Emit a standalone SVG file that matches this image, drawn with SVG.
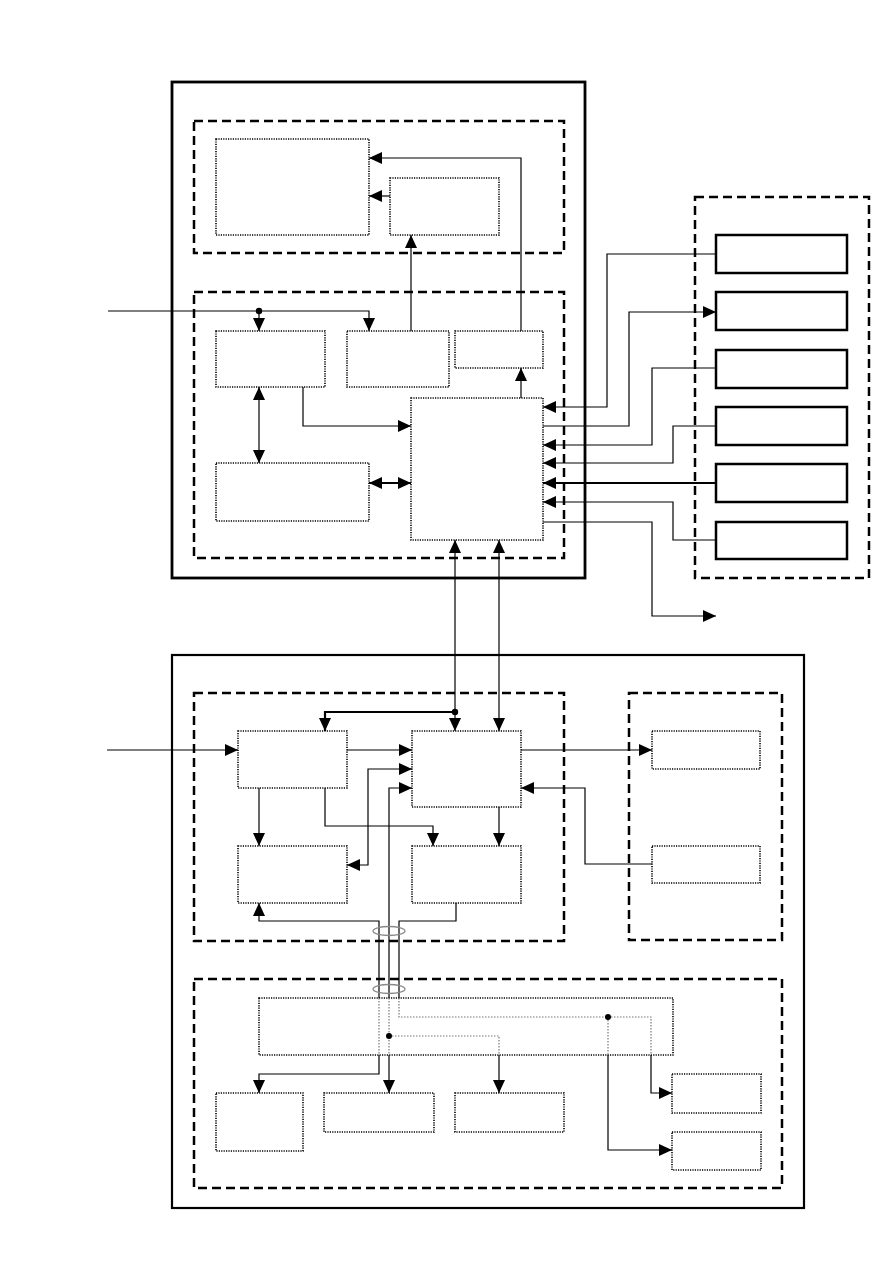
<svg xmlns="http://www.w3.org/2000/svg" width="893" height="1263" viewBox="0 0 893 1263">
<style>
.outer{fill:none;stroke:#000;stroke-width:2.8}
.dash{fill:none;stroke:#000;stroke-width:2.5;stroke-dasharray:9 5}
.dot{fill:#fff;stroke:#000;stroke-width:1.6;stroke-dasharray:1.2 1.2}
.solid{fill:#fff;stroke:#000;stroke-width:2.5}
.c{fill:none;stroke:#000;stroke-width:1.2}
.ct{fill:none;stroke:#000;stroke-width:2.2}
.g{fill:none;stroke:#777;stroke-width:1.2;stroke-dasharray:1.5 1.5}
.a{marker-end:url(#ah)}
.b{marker-start:url(#ahs);marker-end:url(#ah)}
.s{marker-start:url(#ahs)}
.ell{fill:none;stroke:#888;stroke-width:1.3}
</style>
<defs>
<marker id="ah" markerUnits="userSpaceOnUse" markerWidth="14" markerHeight="13" refX="13" refY="6" orient="auto"><path d="M0,0 L13,6 L0,12 z" fill="#000"/></marker>
<marker id="ahs" markerUnits="userSpaceOnUse" markerWidth="14" markerHeight="13" refX="13" refY="6" orient="auto-start-reverse"><path d="M0,0 L13,6 L0,12 z" fill="#000"/></marker>
</defs>
<rect width="893" height="1263" fill="#fff"/>

<g id="top-unit">
<rect class="outer" x="172" y="82" width="413" height="496"/>
<rect class="dash" x="194" y="121" width="370" height="132"/>
<rect class="dash" x="194" y="292" width="370" height="266"/>
</g>
<g id="node-A"><rect class="dot" x="216" y="139" width="153" height="96"/></g>
<g id="node-B"><rect class="dot" x="390" y="178" width="109" height="57"/></g>
<g id="node-C1"><rect class="dot" x="216" y="331" width="109" height="56"/></g>
<g id="node-C2"><rect class="dot" x="347" y="331" width="102" height="56"/></g>
<g id="node-C3"><rect class="dot" x="455" y="331" width="88" height="37"/></g>
<g id="node-D"><rect class="dot" x="411" y="398" width="132" height="142"/></g>
<g id="node-E"><rect class="dot" x="216" y="463" width="153" height="58"/></g>

<g id="right-unit">
<rect class="dash" x="695" y="197" width="174" height="381"/>
</g>
<g id="node-R1"><rect class="solid" x="716" y="235" width="131" height="38"/></g>
<g id="node-R2"><rect class="solid" x="716" y="292" width="131" height="38"/></g>
<g id="node-R3"><rect class="solid" x="716" y="350" width="131" height="38"/></g>
<g id="node-R4"><rect class="solid" x="716" y="407" width="131" height="38"/></g>
<g id="node-R5"><rect class="solid" x="716" y="464" width="131" height="38"/></g>
<g id="node-R6"><rect class="solid" x="716" y="522" width="131" height="37"/></g>

<g id="bottom-unit">
<rect class="outer" x="172" y="655" width="632" height="553" style="stroke-width:2.2"/>
<rect class="dash" x="194" y="693" width="370" height="248"/>
<rect class="dash" x="629" y="693" width="153" height="247"/>
<rect class="dash" x="194" y="979" width="588" height="209"/>
</g>
<g id="node-G"><rect class="dot" x="238" y="731" width="109" height="57"/></g>
<g id="node-F"><rect class="dot" x="412" y="731" width="109" height="76"/></g>
<g id="node-H"><rect class="dot" x="238" y="846" width="109" height="57"/></g>
<g id="node-I"><rect class="dot" x="412" y="846" width="109" height="57"/></g>
<g id="node-J"><rect class="dot" x="652" y="731" width="108" height="38"/></g>
<g id="node-K"><rect class="dot" x="652" y="846" width="108" height="37"/></g>
<g id="node-L"><rect class="dot" x="259" y="998" width="414" height="57"/></g>
<g id="node-M"><rect class="dot" x="216" y="1093" width="87" height="58"/></g>
<g id="node-N"><rect class="dot" x="324" y="1093" width="110" height="39"/></g>
<g id="node-O"><rect class="dot" x="455" y="1093" width="109" height="39"/></g>
<g id="node-P"><rect class="dot" x="672" y="1074" width="89" height="39"/></g>
<g id="node-Q"><rect class="dot" x="672" y="1132" width="89" height="38"/></g>

<g id="connectors">
<path class="c a" d="M411,331 V235"/>
<path class="c a" d="M521,331 V158 H369"/>
<path class="c a" d="M390,196 H369"/>
<path class="c a" d="M108,311 H369 V331"/>
<path class="c a" d="M259,311 V331"/>
<circle cx="259" cy="311" r="3.2"/>
<path class="c b" d="M259,387 V463"/>
<path class="c a" d="M303,387 V426 H411"/>
<path class="ct b" d="M369,483 H411"/>
<path class="c a" d="M521,398 V368"/>
<path class="c a" d="M716,254 H607 V407 H543"/>
<path class="c a" d="M543,426 H629 V312 H716"/>
<path class="c a" d="M716,368 H652 V445 H543"/>
<path class="c a" d="M716,426 H673 V463 H543"/>
<path class="ct a" d="M716,483 H543"/>
<path class="c a" d="M716,540 H673 V502 H543"/>
<path class="c a" d="M543,522 H652 V616 H716"/>
<path class="c b" d="M455,540 V731"/>
<path class="c b" d="M499,540 V731"/>
<path class="ct a" d="M455,712 H325 V731"/>
<circle cx="455" cy="712" r="3.2"/>
<path class="c a" d="M107,750 H238"/>
<path class="c a" d="M347,750 H412"/>
<path class="c a" d="M521,750 H652"/>
<path class="c a" d="M652,864 H585 V788 H521"/>
<path class="c a" d="M259,788 V846"/>
<path class="c a" d="M325,788 V826 H433 V846"/>
<path class="c a" d="M499,807 V846"/>
<path class="c b" d="M412,769 H368 V865 H347"/>
<path class="c a" d="M389,998 V788 H412"/>
<path class="c s" d="M259,903 V921 H379 V998"/>
<path class="c" d="M456,903 V921 H399 V998"/>
<path class="g" d="M379,998 V1055"/>
<path class="g" d="M389,998 V1055"/>
<path class="g" d="M399,998 V1017 H651 V1055"/>
<path class="g" d="M608,1017 V1055"/>
<path class="g" d="M389,1036 H499 V1055"/>
<path class="c a" d="M379,1055 V1074 H259 V1093"/>
<path class="c a" d="M389,1055 V1093"/>
<path class="c a" d="M499,1055 V1093"/>
<path class="c a" d="M651,1055 V1093 H672"/>
<path class="c a" d="M608,1055 V1150 H672"/>
<circle cx="389" cy="1036" r="3"/>
<circle cx="608" cy="1017" r="3"/>
<ellipse class="ell" cx="389" cy="931" rx="16" ry="4.5"/>
<ellipse class="ell" cx="389" cy="989" rx="16" ry="4.5"/>
</g>
</svg>
